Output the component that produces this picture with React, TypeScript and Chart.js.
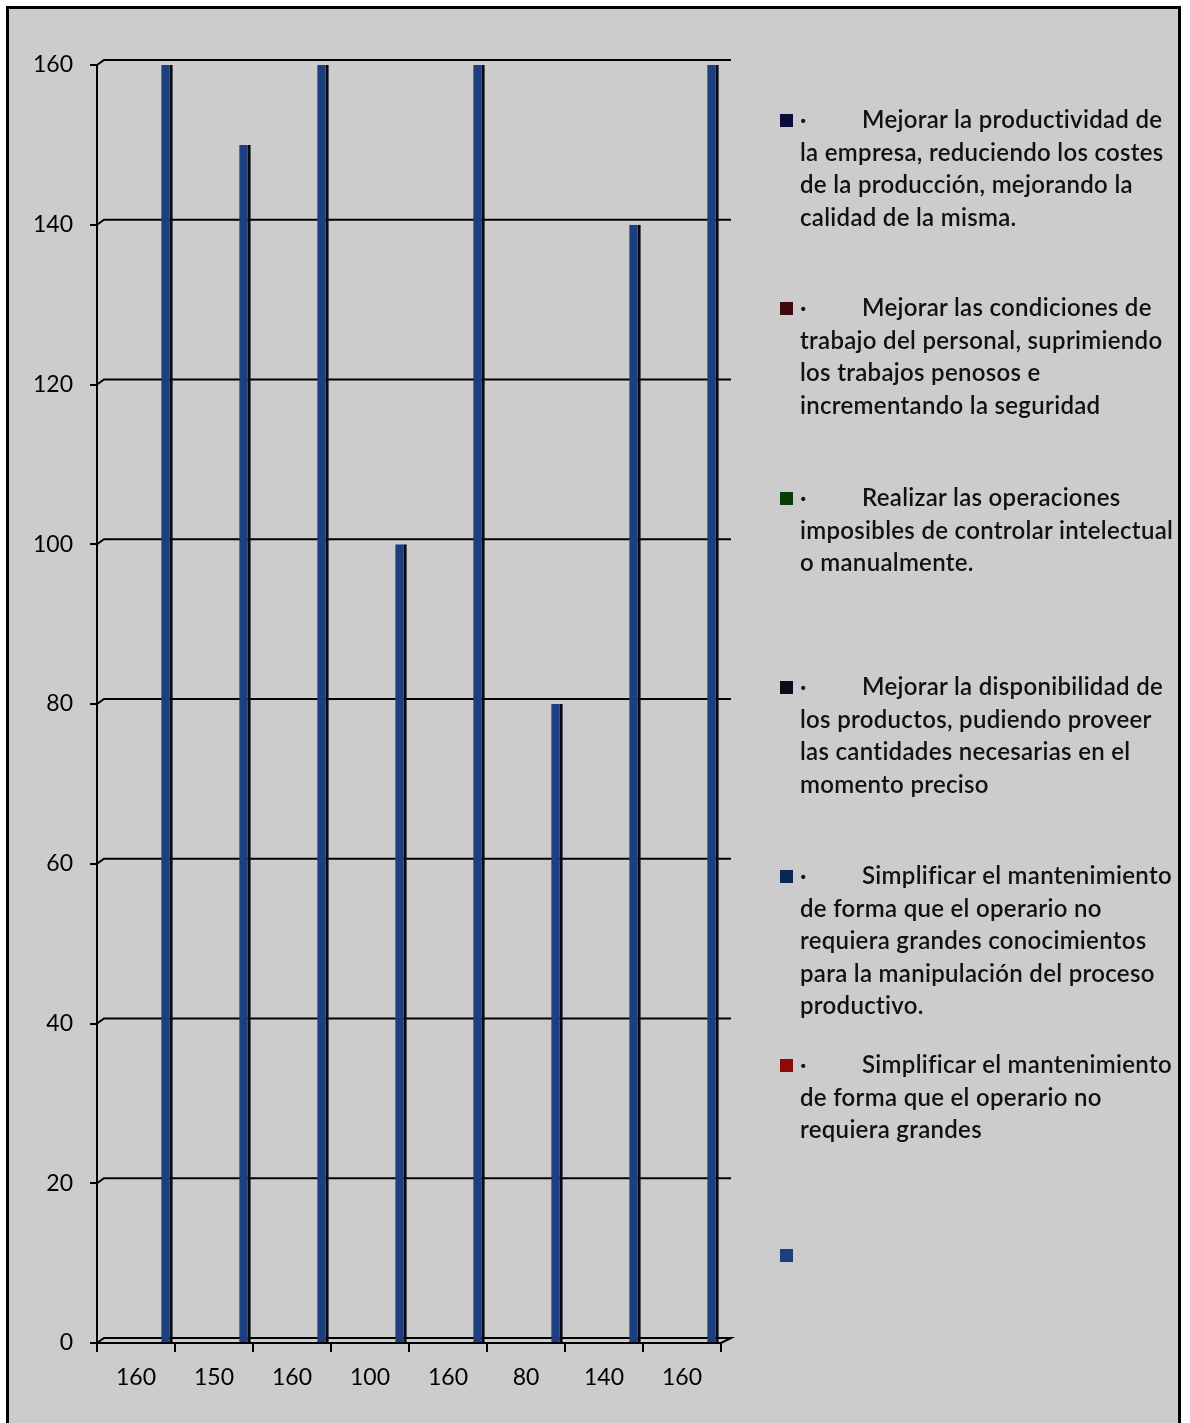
import React, { useEffect, useRef } from "react";
import { Chart, registerables } from "chart.js";

Chart.register(...registerables);

const categories = ["160", "150", "160", "100", "160", "80", "140", "160"];
const barValues = [160, 150, 160, 100, 160, 80, 140, 160];
const yTicksMax = 160;
const yTickStep = 20;

const legendLines: string[][] = [
  ["Mejorar la productividad de", "la empresa, reduciendo los costes", "de la producción, mejorando la", "calidad de la misma."],
  ["Mejorar las condiciones de", "trabajo del personal, suprimiendo", "los trabajos penosos e", "incrementando la seguridad"],
  ["Realizar las operaciones", "imposibles de controlar intelectual", "o manualmente."],
  ["Mejorar la disponibilidad de", "los productos, pudiendo proveer", "las cantidades necesarias en el", "momento preciso"],
  ["Simplificar el mantenimiento", "de forma que el operario no", "requiera grandes conocimientos", "para la manipulación del proceso", "productivo."],
  ["Simplificar el mantenimiento", "de forma que el operario no", "requiera grandes"],
  [],
];
const seriesColors = ["#0b0b3e", "#3d0b0e", "#0b3a0b", "#0b0b1c", "#0b2650", "#8c0a0a", "#1d3f80"];
const legendTops = [120, 308, 498, 687, 876, 1065, 1255];

const FONT = "Lato, 'Noto Sans', sans-serif";

const depthPlugin = {
  id: "depth",
  beforeDatasetsDraw(chart: any) {
    const ctx = chart.ctx;
    const ys = chart.scales.y;
    const { left, right } = chart.chartArea;
    const dx = 7;
    const dy = 5;
    ctx.save();
    ctx.strokeStyle = "#000";
    ctx.lineWidth = 2;
    ys.ticks.forEach((t: any) => {
      const y = ys.getPixelForValue(t.value);
      ctx.beginPath();
      ctx.moveTo(left, y);
      ctx.lineTo(left + dx, y - dy);
      ctx.lineTo(right + 10, y - dy);
      if (t.value === 0) {
        ctx.lineTo(right, y);
      }
      ctx.stroke();
    });
    ctx.restore();
  },
};

function ChartCanvas() {
  const ref = useRef<HTMLCanvasElement | null>(null);
  useEffect(() => {
    document.body.style.overflow = "hidden";
    Chart.defaults.font.family = FONT;
    const datasets = legendLines.map((lines, i) => {
      const isData = i === legendLines.length - 1;
      return {
        label: lines.join(" "),
        data: isData ? barValues : categories.map(() => null),
        backgroundColor: seriesColors[i],
        borderColor: "#060a16",
        borderWidth: { left: 0, top: 0, bottom: 0, right: 3 },
        categoryPercentage: 0.927,
        barPercentage: 1.12,
      };
    });
    const chart = new Chart(ref.current as HTMLCanvasElement, {
      type: "bar",
      data: { labels: categories, datasets: datasets as any },
      options: {
        animation: false,
        responsive: false,
        layout: { padding: { left: 0, right: 469, top: 65, bottom: 0 } },
        plugins: { legend: { display: false }, tooltip: { enabled: false }, title: { display: false } },
        scales: {
          x: {
            grid: { display: true, drawOnChartArea: false, tickLength: 9, color: "#000", lineWidth: 2, offset: true },
            border: { display: true, color: "#000", width: 2 },
            ticks: { color: "#000", font: { size: 23, family: FONT }, padding: 12, maxRotation: 0 },
            afterFit: (s: any) => {
              s.height = 80;
            },
          },
          y: {
            min: 0,
            max: yTicksMax,
            grid: { display: true, drawOnChartArea: false, tickLength: 7, color: "#000", lineWidth: 2 },
            border: { display: true, color: "#000", width: 2 },
            ticks: { stepSize: yTickStep, color: "#000", font: { size: 23, family: FONT }, padding: 17 },
            afterFit: (s: any) => {
              s.width = 97;
            },
          },
        },
      },
      plugins: [depthPlugin],
    });
    return () => chart.destroy();
  }, []);
  return (
    <canvas
      ref={ref}
      width={1190}
      height={1423}
      style={{ position: "absolute", left: 0, top: 0, width: 1190, height: 1423 }}
    />
  );
}

function Legend() {
  return (
    <>
      {legendLines.map((lines, i) => (
        <div key={i} style={{ position: "absolute", left: 780, top: legendTops[i] - 17, fontFamily: FONT, fontSize: 24, fontWeight: 600, letterSpacing: "0.3px", lineHeight: "32.5px", color: "#111" }}>
          <div style={{ position: "absolute", left: 0, top: 11, width: 13, height: 13, background: seriesColors[i] }} />
          {lines.length > 0 && (
            <div style={{ position: "absolute", left: 20, top: 0, whiteSpace: "nowrap" }}>
              {lines.map((ln, j) => (
                <div key={j}>
                  {j === 0 ? (
                    <>
                      <span style={{ display: "inline-block", width: 62 }}>·</span>
                      {ln}
                    </>
                  ) : (
                    ln
                  )}
                </div>
              ))}
            </div>
          )}
        </div>
      ))}
    </>
  );
}

export default function App() {
  return (
    <div>
      <div
        style={{
          position: "absolute",
          left: 6,
          top: 6,
          width: 1175,
          height: 1417,
          boxSizing: "border-box",
          border: "3px solid #000",
          borderBottom: "none",
          background: "#cccccc",
        }}
      />
      <ChartCanvas />
      <Legend />
    </div>
  );
}
